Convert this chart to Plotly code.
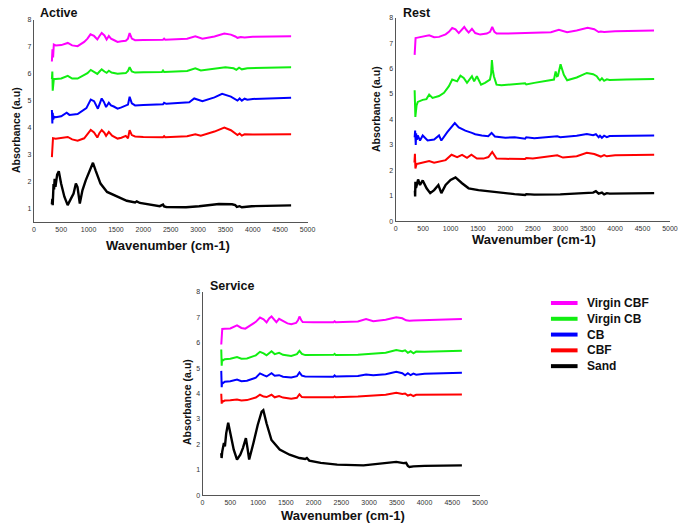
import plotly.graph_objects as go

W, H = 692, 530

series_names = ["Virgin CBF", "Virgin CB", "CB", "CBF", "Sand"]
series_colors = ["#ff00ff", "#11ee11", "#0000ff", "#ff0000", "#000000"]
x_ticks = [0, 500, 1000, 1500, 2000, 2500, 3000, 3500, 4000, 4500, 5000]

# ---------------- Active ----------------
active_vcbf_x = [330, 340, 352, 365, 400, 500, 620, 700, 800, 920, 980, 1035, 1100, 1160, 1200, 1240, 1290, 1330, 1370, 1410, 1460, 1530, 1600, 1680, 1720, 1750, 1790, 1850, 2000, 2360, 2380, 2400, 2800, 2950, 3080, 3300, 3480, 3600, 3680, 3720, 3780, 3850, 4000, 4300, 4700]
active_vcbf_y = [6.45, 6.9, 6.6, 7.08, 7.05, 7.06, 7.14, 7.05, 7.02, 7.18, 7.3, 7.46, 7.4, 7.27, 7.4, 7.51, 7.42, 7.27, 7.4, 7.3, 7.25, 7.18, 7.2, 7.22, 7.3, 7.51, 7.3, 7.24, 7.25, 7.26, 7.3, 7.26, 7.3, 7.39, 7.3, 7.38, 7.49, 7.45, 7.38, 7.33, 7.36, 7.34, 7.37, 7.38, 7.39]
active_vcb_x = [330, 338, 345, 352, 365, 400, 500, 620, 700, 800, 920, 980, 1040, 1100, 1160, 1200, 1240, 1290, 1330, 1370, 1420, 1530, 1680, 1720, 1750, 1790, 1850, 2000, 2340, 2360, 2380, 2800, 2950, 3050, 3300, 3500, 3650, 3700, 3750, 3800, 3900, 4200, 4700]
active_vcb_y = [5.8, 6.08, 5.37, 5.78, 5.8, 5.8, 5.82, 5.92, 5.82, 5.82, 5.95, 6.02, 6.14, 6.08, 5.99, 6.08, 6.16, 6.08, 6.03, 6.11, 6.04, 6.0, 6.02, 6.1, 6.24, 6.08, 6.04, 6.05, 6.06, 6.12, 6.06, 6.1, 6.2, 6.12, 6.18, 6.24, 6.2, 6.14, 6.22, 6.16, 6.2, 6.22, 6.24]
active_cb_x = [330, 338, 345, 355, 370, 400, 500, 600, 650, 800, 900, 960, 1040, 1100, 1170, 1210, 1240, 1280, 1320, 1370, 1410, 1460, 1530, 1600, 1680, 1720, 1750, 1790, 1850, 2000, 2360, 2380, 2420, 2840, 2930, 3080, 3300, 3440, 3600, 3680, 3720, 3760, 3800, 3850, 3900, 4000, 4300, 4700]
active_cb_y = [4.65, 4.15, 4.55, 4.3, 4.4, 4.38, 4.42, 4.55, 4.47, 4.5, 4.65, 4.72, 5.04, 4.98, 4.7, 4.95, 5.08, 4.95, 4.76, 4.92, 4.82, 4.78, 4.7, 4.75, 4.8, 4.85, 5.14, 4.9, 4.82, 4.84, 4.86, 4.92, 4.88, 4.94, 5.08, 4.98, 5.12, 5.25, 5.15, 5.05, 5.0, 5.08, 5.0, 5.07, 5.03, 5.06, 5.08, 5.11]
active_cbf_x = [330, 338, 350, 400, 500, 620, 700, 800, 920, 980, 1040, 1100, 1160, 1200, 1240, 1290, 1320, 1370, 1430, 1530, 1600, 1680, 1720, 1750, 1790, 1850, 2000, 2360, 2380, 2400, 2800, 2950, 3050, 3300, 3480, 3600, 3680, 3720, 3760, 3800, 3850, 4000, 4700]
active_cbf_y = [2.9, 3.55, 3.6, 3.58, 3.6, 3.65, 3.56, 3.51, 3.6, 3.75, 3.91, 3.82, 3.63, 3.8, 3.91, 3.8, 3.69, 3.84, 3.7, 3.59, 3.62, 3.69, 3.6, 3.9, 3.72, 3.67, 3.65, 3.64, 3.68, 3.64, 3.68, 3.75, 3.7, 3.85, 4.0, 3.9, 3.76, 3.72, 3.78, 3.7, 3.75, 3.74, 3.75]
active_sand_x = [330, 338, 345, 360, 370, 380, 395, 410, 426, 456, 498, 558, 618, 678, 726, 768, 798, 840, 888, 948, 1026, 1080, 1128, 1218, 1338, 1518, 1698, 1850, 1880, 1938, 2118, 2300, 2360, 2380, 2420, 2780, 3020, 3380, 3620, 3680, 3710, 3760, 3800, 3980, 4700]
active_sand_y = [1.15, 1.35, 1.12, 1.9, 1.7, 2.1, 1.8, 2.1, 2.25, 2.38, 1.92, 1.43, 1.12, 1.36, 1.55, 1.92, 1.79, 1.18, 1.67, 2.04, 2.47, 2.69, 2.41, 1.92, 1.61, 1.43, 1.28, 1.22, 1.26, 1.2, 1.14, 1.08, 1.14, 1.07, 1.05, 1.04, 1.08, 1.16, 1.15, 1.12, 1.05, 1.08, 1.04, 1.08, 1.11]

# ---------------- Rest ----------------
rest_vcbf_x = [345, 352, 362, 400, 500, 610, 700, 790, 910, 970, 1030, 1090, 1150, 1200, 1250, 1290, 1330, 1390, 1450, 1540, 1600, 1660, 1720, 1760, 1800, 1840, 2000, 2380, 2400, 2830, 2975, 3125, 3300, 3500, 3620, 3665, 3700, 3740, 3800, 4000, 4710]
rest_vcbf_y = [6.54, 6.9, 7.2, 7.22, 7.25, 7.31, 7.24, 7.25, 7.35, 7.45, 7.6, 7.55, 7.4, 7.5, 7.64, 7.52, 7.42, 7.57, 7.4, 7.34, 7.36, 7.38, 7.45, 7.64, 7.45, 7.38, 7.38, 7.4, 7.38, 7.43, 7.53, 7.43, 7.5, 7.61, 7.55, 7.48, 7.44, 7.46, 7.44, 7.47, 7.5]
rest_vcb_x = [345, 350, 358, 380, 402, 492, 560, 610, 671, 790, 880, 970, 1030, 1120, 1180, 1240, 1300, 1390, 1430, 1480, 1556, 1628, 1718, 1740, 1754, 1770, 1790, 1838, 1928, 2360, 2380, 2527, 2886, 2916, 2940, 2958, 3006, 3066, 3126, 3300, 3485, 3600, 3665, 3700, 3725, 3760, 3800, 3850, 3900, 4200, 4713]
rest_vcb_y = [5.15, 4.6, 4.1, 4.55, 4.69, 4.77, 4.8, 4.98, 4.85, 4.92, 5.05, 5.31, 5.57, 5.5, 5.72, 5.63, 5.44, 5.7, 5.5, 5.7, 5.37, 5.44, 5.57, 5.8, 6.34, 5.95, 5.7, 5.37, 5.35, 5.42, 5.38, 5.44, 5.57, 5.89, 5.7, 5.72, 6.17, 5.76, 5.54, 5.65, 5.83, 5.78, 5.7, 5.6, 5.54, 5.62, 5.52, 5.58, 5.55, 5.57, 5.59]
rest_cb_x = [345, 354, 365, 372, 385, 402, 443, 492, 581, 700, 790, 832, 940, 1030, 1077, 1149, 1269, 1389, 1450, 1569, 1687, 1748, 1808, 2000, 2168, 2360, 2380, 2527, 2946, 3000, 3300, 3485, 3600, 3650, 3700, 3725, 3760, 3800, 3850, 3900, 4000, 4713]
rest_cb_y = [3.3, 3.56, 3.0, 3.45, 3.2, 3.37, 3.17, 3.37, 3.17, 3.21, 3.37, 3.17, 3.5, 3.76, 3.86, 3.69, 3.56, 3.47, 3.42, 3.37, 3.34, 3.47, 3.33, 3.28, 3.3, 3.24, 3.3, 3.26, 3.34, 3.3, 3.36, 3.43, 3.38, 3.42, 3.3, 3.36, 3.28, 3.36, 3.3, 3.35, 3.35, 3.37]
rest_cbf_x = [341, 350, 359, 380, 402, 551, 610, 700, 790, 910, 1018, 1120, 1210, 1300, 1380, 1480, 1600, 1690, 1760, 1838, 2000, 2360, 2380, 2500, 2946, 3050, 3300, 3485, 3620, 3700, 3740, 3800, 3850, 4000, 4713]
rest_cbf_y = [2.3, 2.65, 2.07, 2.25, 2.26, 2.33, 2.36, 2.3, 2.33, 2.4, 2.61, 2.52, 2.61, 2.49, 2.61, 2.46, 2.46, 2.52, 2.72, 2.46, 2.45, 2.44, 2.48, 2.46, 2.59, 2.5, 2.55, 2.69, 2.64, 2.58, 2.54, 2.6, 2.55, 2.59, 2.61]
rest_sand_x = [350, 354, 359, 370, 384, 408, 443, 492, 563, 629, 700, 778, 832, 910, 1000, 1090, 1209, 1329, 1509, 1748, 1928, 2168, 2360, 2380, 2527, 3000, 3425, 3600, 3650, 3700, 3760, 3800, 3850, 3900, 4713]
rest_sand_y = [1.2, 0.97, 1.55, 1.3, 1.42, 1.64, 1.42, 1.6, 1.29, 1.1, 1.22, 1.42, 1.1, 1.42, 1.62, 1.72, 1.49, 1.29, 1.22, 1.16, 1.1, 1.06, 1.03, 1.06, 1.04, 1.05, 1.1, 1.12, 1.18, 1.08, 1.12, 1.05, 1.1, 1.08, 1.1]

# ---------------- Service ----------------
service_vcbf_x = [337, 345, 355, 400, 500, 621, 700, 770, 888, 960, 1035, 1100, 1154, 1200, 1243, 1290, 1331, 1379, 1450, 1530, 1598, 1686, 1720, 1746, 1780, 1805, 2000, 2360, 2380, 2400, 2800, 2947, 3077, 3300, 3491, 3600, 3668, 3728, 3800, 4000, 4674]
service_vcbf_y = [5.93, 6.3, 6.54, 6.55, 6.56, 6.68, 6.58, 6.55, 6.7, 6.82, 6.99, 6.92, 6.8, 6.95, 7.03, 6.92, 6.81, 6.94, 6.84, 6.76, 6.73, 6.78, 6.88, 7.03, 6.88, 6.81, 6.8, 6.8, 6.84, 6.8, 6.83, 6.93, 6.84, 6.9, 7.0, 6.96, 6.88, 6.86, 6.87, 6.89, 6.93]
service_vcb_x = [337, 345, 352, 365, 400, 500, 621, 700, 800, 960, 1035, 1100, 1154, 1243, 1300, 1379, 1450, 1598, 1700, 1746, 1790, 1850, 2000, 2360, 2380, 2400, 2800, 3000, 3300, 3491, 3600, 3650, 3700, 3750, 3800, 3850, 4000, 4674]
service_vcb_y = [5.73, 5.09, 5.35, 5.3, 5.35, 5.37, 5.43, 5.37, 5.38, 5.5, 5.64, 5.58, 5.5, 5.66, 5.55, 5.6, 5.52, 5.48, 5.55, 5.68, 5.56, 5.51, 5.51, 5.52, 5.56, 5.51, 5.52, 5.56, 5.6, 5.71, 5.66, 5.7, 5.6, 5.66, 5.58, 5.65, 5.64, 5.68]
service_cb_x = [337, 345, 352, 365, 400, 500, 621, 700, 800, 960, 1035, 1100, 1154, 1243, 1300, 1379, 1450, 1598, 1700, 1746, 1790, 1850, 2000, 2360, 2380, 2400, 2800, 2947, 3077, 3300, 3491, 3600, 3650, 3700, 3750, 3800, 3850, 4000, 4674]
service_cb_y = [4.89, 4.25, 4.44, 4.4, 4.46, 4.48, 4.55, 4.48, 4.5, 4.62, 4.79, 4.72, 4.67, 4.8, 4.7, 4.72, 4.66, 4.63, 4.68, 4.83, 4.7, 4.67, 4.67, 4.66, 4.71, 4.67, 4.69, 4.75, 4.72, 4.76, 4.85, 4.8, 4.72, 4.8, 4.72, 4.78, 4.74, 4.78, 4.82]
service_cbf_x = [337, 345, 352, 365, 400, 500, 621, 700, 800, 960, 1035, 1100, 1154, 1243, 1300, 1379, 1450, 1598, 1700, 1746, 1790, 1850, 2000, 2360, 2380, 2400, 2800, 3300, 3491, 3600, 3650, 3700, 3750, 3800, 3850, 4000, 4674]
service_cbf_y = [3.99, 3.6, 3.72, 3.68, 3.72, 3.73, 3.76, 3.72, 3.74, 3.84, 3.95, 3.88, 3.86, 3.95, 3.85, 3.9, 3.84, 3.79, 3.83, 3.97, 3.86, 3.85, 3.85, 3.85, 3.88, 3.85, 3.88, 3.95, 4.03, 3.98, 4.0, 3.92, 3.96, 3.9, 3.95, 3.95, 3.96]
service_sand_x = [337, 343, 355, 385, 403, 426, 462, 503, 562, 621, 680, 727, 781, 810, 840, 917, 994, 1065, 1095, 1154, 1242, 1390, 1568, 1746, 1850, 1880, 1923, 2130, 2426, 2900, 3373, 3491, 3620, 3668, 3700, 3728, 3800, 4000, 4674]
service_sand_y = [1.65, 1.46, 1.72, 2.05, 1.92, 2.43, 2.85, 2.43, 1.79, 1.4, 1.59, 1.85, 2.24, 1.85, 1.4, 2.05, 2.76, 3.28, 3.34, 2.82, 2.17, 1.79, 1.59, 1.46, 1.42, 1.46, 1.36, 1.27, 1.2, 1.17, 1.29, 1.31, 1.26, 1.27, 1.15, 1.11, 1.13, 1.15, 1.17]

panels = [
    ("Active", [(active_vcbf_x, active_vcbf_y), (active_vcb_x, active_vcb_y), (active_cb_x, active_cb_y),
                (active_cbf_x, active_cbf_y), (active_sand_x, active_sand_y)]),
    ("Rest", [(rest_vcbf_x, rest_vcbf_y), (rest_vcb_x, rest_vcb_y), (rest_cb_x, rest_cb_y),
              (rest_cbf_x, rest_cbf_y), (rest_sand_x, rest_sand_y)]),
    ("Service", [(service_vcbf_x, service_vcbf_y), (service_vcb_x, service_vcb_y), (service_cb_x, service_cb_y),
                 (service_cbf_x, service_cbf_y), (service_sand_x, service_sand_y)]),
]

# pixel boxes of plot areas: (left, right, top, bottom)
boxes = [(32.3, 310, 16, 221), (399.5, 677.7, 14, 220), (203.5, 485, 291.7, 497.7)]
y_ranges = [[0.49, 8], [0, 8], [0, 8]]

BOLDF = "Liberation Sans, Arial, sans-serif"
TICKF = dict(family="Liberation Sans, Arial, sans-serif", size=7, color="#333333")

fig = go.Figure()
layout = dict(width=W, height=H, margin=dict(l=0, r=0, t=0, b=0), showlegend=False,
              paper_bgcolor="white", plot_bgcolor="white", annotations=[], shapes=[])

for i, (title, data) in enumerate(panels):
    n = "" if i == 0 else str(i + 1)
    for (xs, ys), name, col in zip(data, series_names, series_colors):
        lw = 2.4 if name == "Sand" else 2
        fig.add_trace(go.Scatter(x=xs, y=ys, mode="lines", name=name, showlegend=False,
                                 line=dict(color=col, width=lw), xaxis="x" + n, yaxis="y" + n))
    l, r, t, b = boxes[i]
    layout["xaxis" + n] = dict(domain=[l / W, r / W], anchor="y" + n, range=[0, 5000],
                               tickvals=x_ticks, showgrid=False, zeroline=False, showline=True,
                               linecolor="#555555", linewidth=1.2, ticks="", tickfont=TICKF)
    layout["yaxis" + n] = dict(domain=[1 - b / H, 1 - t / H], anchor="x" + n, range=y_ranges[i],
                               dtick=1, tick0=0, showgrid=False, zeroline=False, showline=True,
                               linecolor="#555555", linewidth=1.2, ticks="", tickfont=TICKF)

def ann(text, px, py, size, angle=0, xanchor="center"):
    layout["annotations"].append(dict(text=text, x=px / W, y=1 - py / H, xref="paper", yref="paper",
                                      showarrow=False, textangle=angle, xanchor=xanchor, yanchor="middle",
                                      font=dict(family=BOLDF, size=size, color="#111111", weight="bold")))

ann("Active", 37, 9, 12.5, xanchor="left")
ann("Rest", 405, 9, 12.5, xanchor="left")
ann("Service", 209, 286, 12.5, xanchor="left")
ann("Absorbance (a.u)", 15, 128, 10.5, angle=-90)
ann("Absorbance (a.u)", 379, 107, 10.5, angle=-90)
ann("Absorbance (a.u)", 187, 403, 10.5, angle=-90)
ann("Wavenumber (cm-1)", 168, 245, 13)
ann("Wavenumber (cm-1)", 540, 239, 13)
ann("Wavenumber (cm-1)", 346, 518, 13)

# legend (swatch + label), laid out in paper space
LEG_X0, LEG_X1, LEG_TX, LEG_Y0, LEG_DY = 557, 584, 592, 303, 16
for k, (name, col) in enumerate(zip(series_names, series_colors)):
    yy = 1 - (LEG_Y0 + k * LEG_DY) / H
    layout["shapes"].append(dict(type="line", xref="paper", yref="paper",
                                 x0=LEG_X0 / W, x1=LEG_X1 / W, y0=yy, y1=yy,
                                 line=dict(color=col, width=4)))
    layout["annotations"].append(dict(text=name, x=LEG_TX / W, y=yy, xref="paper", yref="paper",
                                      showarrow=False, xanchor="left", yanchor="middle",
                                      font=dict(family=BOLDF, size=12, color="#111111", weight="bold")))

fig.update_layout(**layout)
fig.write_html("out.html")
